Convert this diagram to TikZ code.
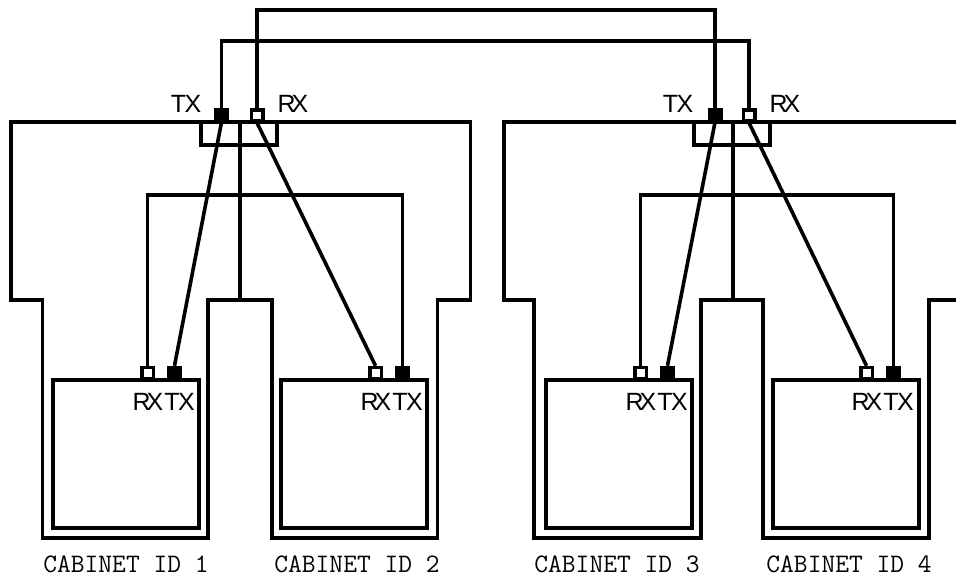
\documentclass[tikz,border=0pt]{standalone}
\usepackage{fontspec}
\setmainfont{Liberation Sans}
\usetikzlibrary{calc,positioning}
\tikzset{
  wire/.style={line width=0.072cm, line join=miter},
  txport/.style={draw, fill=black, line width=0.07cm, minimum width=0.23cm, minimum height=0.22cm, inner sep=0pt},
  rxport/.style={draw, fill=white, line width=0.07cm, minimum width=0.23cm, minimum height=0.22cm, inner sep=0pt},
  cabbox/.style={draw, line width=0.08cm, minimum width=2.92cm, minimum height=2.95cm, inner sep=0pt},
  jbox/.style={draw, line width=0.072cm, minimum width=1.51cm, minimum height=0.46cm, inner sep=0pt},
  portlabel/.style={font=\fontsize{14.2}{14.2}\selectfont, inner sep=0pt},
  cablabel/.style={font=\ttfamily\fontsize{15.2}{15.2}\selectfont, inner sep=0pt}
}
\newcommand{\RXtext}{R\kern-0.16em X}
\newcommand{\TXtext}{T\kern-0.06em X}
\begin{document}
\begin{tikzpicture}[x=0.02cm, y=-0.02cm]
        \useasboundingbox (0,0) rectangle (956,577);
        % outer cabinet outlines
        \draw[wire] (272,300) -- (208,300) -- (208,538) -- (42.5,538) -- (42.5,300) -- (11,300) -- (11,122)
          -- (470.5,122) -- (470.5,300) -- (437.5,300) -- (437.5,538) -- (272,538) -- cycle;
        \draw[wire] (958,122) -- (504,122) -- (504,300) -- (534,300) -- (534,538) -- (701,538) -- (701,300)
          -- (763,300) -- (763,538) -- (929,538) -- (929,300) -- (958,300);
        % cabinets
        \foreach \n/\xc in {1/126.2,2/354,3/619,4/846} {
          \node[cabbox] (cab\n) at (\xc,454) {};
        }
        \node[cablabel] (namea) at (126,564.5) {CABINET ID 1};
        \node[cablabel] (nameb) at (357,564.5) {CABINET ID 2};
        \node[cablabel] (namec) at (617,564.5) {CABINET ID 3};
        \node[cablabel] (named) at (849,564.5) {CABINET ID 4};
        % junction boxes on top
        \node[jbox] (jboxa) at (239,133.5) {};
        \node[jbox] (jboxb) at (732,133.5) {};
        \coordinate (stema) at (240,300);
        \coordinate (stemb) at (733,300);
        \draw[wire] (jboxa.north -| stema) -- (stema);
        \draw[wire] (jboxb.north -| stemb) -- (stemb);
        % ports of the junction boxes
        \node[txport] (txa) at (221.5,115) {};
        \node[rxport] (rxa) at (257,115.5) {};
        \node[txport] (txb) at (715,115) {};
        \node[rxport] (rxb) at (749,115.5) {};
        \node[portlabel] (ltxa) at (186,104) {\TXtext};
        \node[portlabel] (lrxa) at (293,104) {\RXtext};
        \node[portlabel] (ltxb) at (678,104) {\TXtext};
        \node[portlabel] (lrxb) at (785,104) {\RXtext};
        % ports of the cabinets
        \foreach \n/\xr/\xt in {1/147.5/174.5,2/375.5/402.5,3/640.5/667.5,4/866.5/893.5} {
          \node[rxport] (rx\n) at (\xr,373) {};
          \node[txport] (tx\n) at (\xt,373) {};
          \node[portlabel] (lrx\n) at ($(\xr,402)+(0.5,0)$) {\RXtext};
          \node[portlabel] (ltx\n) at ($(\xt,402)+(5,0)$) {\TXtext};
        }
        % links between the two pairs
        \draw[wire] (txa.north) -- (txa.north |- 0,41) -| (rxb.north);
        \draw[wire] (rxa.north) -- (rxa.north |- 0,10) -| (txb.north);
        % links down to the cabinets
        \draw[wire] (txa.south) -- (tx1.north);
        \draw[wire] (rxa.south) -- (rx2.north);
        \draw[wire] (txb.south) -- (tx3.north);
        \draw[wire] (rxb.south) -- (rx4.north);
        \draw[wire] (rx1.north) -- (rx1.north |- 0,195) -| (tx2.north);
        \draw[wire] (rx3.north) -- (rx3.north |- 0,195) -| (tx4.north);
      \end{tikzpicture}
\end{document}
